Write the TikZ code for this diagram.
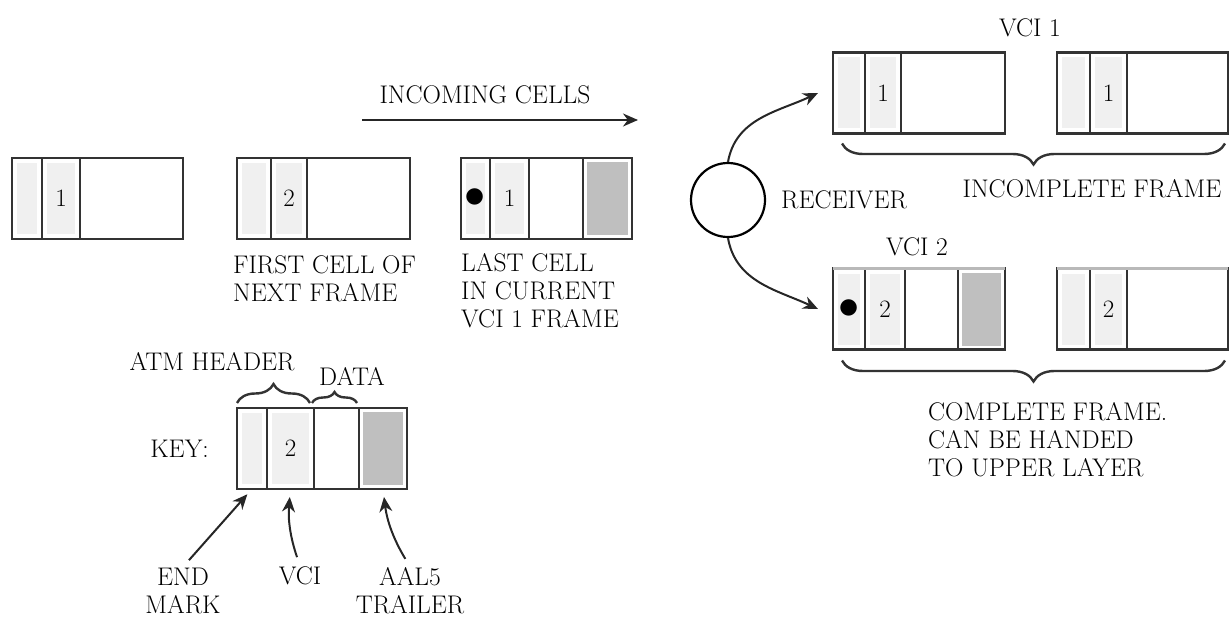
\documentclass[tikz,border=0pt]{standalone}
\usetikzlibrary{positioning, decorations.pathreplacing, arrows.meta}

\newcommand{\markdot}{\scalebox{1.7}{$\bullet$}}

\tikzset{
  field/.style={draw=black!80, line width=2.8pt, minimum height=81pt, inner sep=0pt, outer sep=0pt,
    font=\fontsize{25}{28}\selectfont},
  hdrfield/.style={field, path picture={\fill[gray!12] ([shift={(5pt,-5pt)}]path picture bounding box.north west) rectangle ([shift={(-5pt,5pt)}]path picture bounding box.south east);}},
  trlfield/.style={field, path picture={\fill[gray!50] ([shift={(4pt,-4pt)}]path picture bounding box.north west) rectangle ([shift={(-4pt,4pt)}]path picture bounding box.south east);}},
  lbl/.style={font=\fontsize{25.5}{28}\selectfont, inner sep=1pt, text=black},
  arr/.style={-{Stealth[length=15pt,width=13pt]}, line width=2pt, black!85},
  brc/.style={decorate, line width=2.4pt, black!80},
}

\begin{document}
\begin{tikzpicture}[x=1pt, y=1pt]
   \useasboundingbox (0,0) rectangle (1230,-620);

   % Incoming cells
   \node[lbl] (inclbl) at (485,-95) {INCOMING CELLS};
   \coordinate (inS) at (362,-120);
   \coordinate (inE) at (638,-120);
   \draw[arr] (inS) -- (inE);

   \node[hdrfield, minimum width=30pt, anchor=west] (a1) at (12,-198.5) {};
   \node[hdrfield, minimum width=38pt, right=0pt of a1] (a2) {1};
   \node[field, minimum width=103pt, right=0pt of a2] (a3) {};

   \node[hdrfield, minimum width=34pt, anchor=west] (b1) at (237,-198.5) {};
   \node[hdrfield, minimum width=36pt, right=0pt of b1] (b2) {2};
   \node[field, minimum width=103pt, right=0pt of b2] (b3) {};

   \node[hdrfield, minimum width=29pt, anchor=west] (c1) at (461,-198.5) {\markdot};
   \node[hdrfield, minimum width=39pt, right=0pt of c1] (c2) {1};
   \node[field, minimum width=54pt, right=0pt of c2] (c3) {};
   \node[trlfield, minimum width=49pt, right=0pt of c3] (c4) {};

   \node[lbl, anchor=west, align=left] (blbl) at (232,-279) {FIRST CELL OF\\NEXT FRAME};
   \node[lbl, anchor=west, align=left] (clbl) at (460,-291) {LAST CELL\\IN CURRENT\\VCI 1 FRAME};

   % Receiver
   \node[draw, circle, line width=2.2pt, minimum size=74pt] (rcv) at (728,-200) {};
   \node[lbl, anchor=west] (rcvlbl) at (780,-200) {RECEIVER};

   % VCI 1
   \node[lbl] (vci1lbl) at (1030,-28) {VCI 1};
   \node[hdrfield, minimum width=32pt, anchor=west] (v1a1) at (833,-93) {};
   \node[hdrfield, minimum width=36pt, right=0pt of v1a1] (v1a2) {1};
   \node[field, minimum width=104pt, right=0pt of v1a2] (v1a3) {};
   \node[hdrfield, minimum width=33pt, anchor=west] (v1b1) at (1057,-93) {};
   \node[hdrfield, minimum width=37pt, right=0pt of v1b1] (v1b2) {1};
   \node[field, minimum width=101pt, right=0pt of v1b2] (v1b3) {};
   \draw[brc, decoration={brace, amplitude=21pt}] ([shift={(-3pt,-10pt)}]v1b3.south east) -- ([shift={(9pt,-10pt)}]v1a1.south west);
   \node[lbl] (inclbl2) at (1092,-189) {INCOMPLETE FRAME};

   % VCI 2
   \node[lbl] (vci2lbl) at (917,-247) {VCI 2};
   \node[hdrfield, minimum width=32pt, anchor=west] (v2a1) at (833,-309) {\markdot};
   \node[hdrfield, minimum width=40pt, right=0pt of v2a1] (v2a2) {2};
   \node[field, minimum width=53pt, right=0pt of v2a2] (v2a3) {};
   \node[trlfield, minimum width=47pt, right=0pt of v2a3] (v2a4) {};
   \node[hdrfield, minimum width=33pt, anchor=west] (v2b1) at (1057,-309) {};
   \node[hdrfield, minimum width=37pt, right=0pt of v2b1] (v2b2) {2};
   \node[field, minimum width=101pt, right=0pt of v2b2] (v2b3) {};
   \draw[gray!55, line width=2.8pt] (v2a1.north west) -- (v2a4.north east);
   \draw[gray!55, line width=2.8pt] (v2b1.north west) -- (v2b3.north east);
   \draw[brc, decoration={brace, amplitude=21pt}] ([shift={(-3pt,-11pt)}]v2b3.south east) -- ([shift={(9pt,-11pt)}]v2a1.south west);
   \node[lbl, anchor=west, align=left] (cmplbl) at (927,-440) {COMPLETE FRAME.\\CAN BE HANDED\\TO UPPER LAYER};

   \draw[arr] (rcv.north) to[out=80, in=205] ([xshift=-15pt]v1a1.west);
   \draw[arr] (rcv.south) to[out=-80, in=155] ([xshift=-15pt]v2a1.west);

   % Key
   \node[lbl, anchor=east] (keylbl) at (210,-448.5) {KEY:};
   \node[hdrfield, minimum width=30pt, anchor=west] (k1) at (237,-448.5) {};
   \node[hdrfield, minimum width=47pt, right=0pt of k1] (k2) {2};
   \node[field, minimum width=45pt, right=0pt of k2] (k3) {};
   \node[trlfield, minimum width=48pt, right=0pt of k3] (k4) {};
   \draw[brc, decoration={brace, amplitude=19pt}] ([yshift=5pt]k1.north west) -- ([shift={(-4pt,5pt)}]k2.north east);
   \draw[brc, decoration={brace, amplitude=11pt}] ([shift={(-2pt,5pt)}]k3.north west) -- ([shift={(-2pt,5pt)}]k3.north east);
   \node[lbl] (hdrlbl) at (212,-362) {ATM HEADER};
   \node[lbl] (datalbl) at (352,-376) {DATA};

   \node[lbl, align=center] (endlbl) at (183,-591) {END\\MARK};
   \node[lbl] (vcilbl) at (300,-576) {VCI};
   \node[lbl, align=center] (aallbl) at (410,-591) {AAL5\\TRAILER};
   \draw[arr, shorten <=9pt, shorten >=7pt] (endlbl.north) -- (k1.south);
   \draw[arr, shorten <=9pt, shorten >=8pt] (vcilbl.north) to[bend left=12] (k2.south);
   \draw[arr, shorten <=9pt, shorten >=8pt] (aallbl.north) to[bend left=12] (k4.south);
\end{tikzpicture}
\end{document}
